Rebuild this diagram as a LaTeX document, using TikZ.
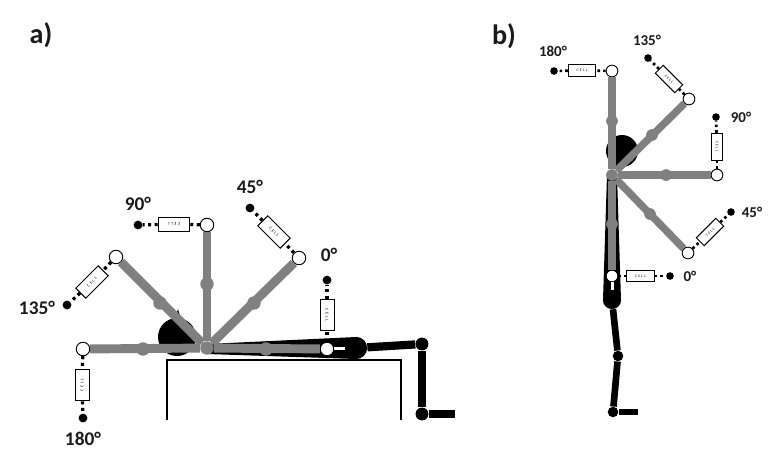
\documentclass[tikz,border=0pt]{standalone}
\usepackage{fontspec}
\setmainfont{Carlito}
\definecolor{armgray}{HTML}{808080}
\definecolor{labelgray}{HTML}{1A1A1A}
\tikzset{
    limb/.style={line width=7.6pt, draw=armgray},
    limbB/.style={line width=6.4pt, draw=armgray},
    leg/.style={line width=7pt, draw=black},
    legB/.style={line width=5.7pt, draw=black},
    joint/.style={circle, fill=armgray, inner sep=0pt, minimum size=11.5pt},
    jointB/.style={circle, fill=armgray, inner sep=0pt, minimum size=10pt},
    blackjoint/.style={circle, fill=black, inner sep=0pt, minimum size=11pt},
    marker/.style={circle, draw=black, fill=white, line width=0.8pt, inner sep=0pt, minimum size=11.5pt},
    markerB/.style={circle, draw=black, fill=white, line width=0.8pt, inner sep=0pt, minimum size=10pt},
    anchorpt/.style={circle, fill=black, inner sep=0pt, minimum size=7.5pt},
    anchorptB/.style={circle, fill=black, inner sep=0pt, minimum size=6.5pt},
    cell/.style={draw=black, fill=white, line width=0.8pt, inner sep=0pt, minimum width=27pt, minimum height=12pt, font=\fontsize{3.6pt}{3.6pt}\selectfont},
    cellB/.style={draw=black, fill=white, line width=0.8pt, inner sep=0pt, minimum width=23.5pt, minimum height=9.5pt, font=\fontsize{3.2pt}{3.2pt}\selectfont},
    wire/.style={line width=2.8pt, dash pattern=on 2.6pt off 3pt},
    wireB/.style={line width=2.3pt, dash pattern=on 2.2pt off 2.6pt},
    angle/.style={font=\fontsize{16.5pt}{16.5pt}\selectfont\bfseries, text=labelgray, inner sep=0pt},
    angleB/.style={font=\fontsize{12.8pt}{12.8pt}\selectfont\bfseries, text=labelgray, inner sep=0pt},
    panel/.style={font=\fontsize{24pt}{24pt}\selectfont\bfseries, text=labelgray, inner sep=0pt},
}
\begin{document}
\begin{tikzpicture}[x=0.03cm, y=-0.03cm]
    \useasboundingbox (0, 0) rectangle (773, 463);
    \node[panel] (PanelA) at (41, 35) {a)};
    \node[panel] (PanelB) at (504, 36) {b)};

    % supine
    \draw [line width=0.9pt] (167, 420) -- (167, 360) -- (401, 360) -- (401, 420);
    \fill (177, 337) circle (19);
    \fill (175, 319) -- (178, 309) -- (181, 319) -- cycle;
    \fill (207, 344) -- (356, 337) -- (356, 359) -- (207, 354) -- cycle;
    \node[blackjoint, minimum size=19pt] (HipA) at (356, 348) {};
    \node[blackjoint] (KneeA) at (422, 344) {};
    \node[blackjoint] (AnkleA) at (422, 414) {};
    \coordinate (ToeA) at (455, 414);
    \path [leg] (HipA) edge node {} (KneeA);
    \path [leg] (KneeA) edge node {} (AnkleA);
    \path [leg] (AnkleA) edge node {} (ToeA);

    \node[joint] (SA) at (207, 348) {};
    \node[marker] (W0A) at (327, 349) {};
    \node[marker] (W45A) at (299, 258) {};
    \node[marker] (W90A) at (207, 225) {};
    \node[marker] (W135A) at (116, 257) {};
    \node[marker] (W180A) at (83, 349) {};
    \path [limb] (SA) edge node {} (W0A);
    \path [limb] (SA) edge node {} (W45A);
    \path [limb] (SA) edge node {} (W90A);
    \path [limb] (SA) edge node {} (W135A);
    \path [limb] (SA) edge node {} (W180A);
    \node[joint] (E0A) at (266, 349) {};
    \node[joint] (E45A) at (254, 303) {};
    \node[joint] (E90A) at (207, 284) {};
    \node[joint] (E135A) at (160, 303) {};
    \node[joint] (E180A) at (143, 349) {};
    \fill [white] (334, 346.5) rectangle (345, 350);

    \node[cell, rotate=-90] (C0A) at (327, 315) {C\,\,E\,\,L\,\,L};
    \node[cell, rotate=-45] (C45A) at (274, 232) {C\,\,E\,\,L\,\,L};
    \node[cell, rotate=180] (C90A) at (174, 224) {C\,\,E\,\,L\,\,L};
    \node[cell, rotate=45] (C135A) at (92, 282) {C\,\,E\,\,L\,\,L};
    \node[cell, rotate=90] (C180A) at (82, 385) {C\,\,E\,\,L\,\,L};
    \node[anchorpt] (D0A) at (327, 280) {};
    \node[anchorpt] (D45A) at (250, 208) {};
    \node[anchorpt] (D90A) at (138, 225) {};
    \node[anchorpt] (D135A) at (67, 305) {};
    \node[anchorpt] (D180A) at (83, 418) {};
    \path [wire] (W0A) edge node {} (C0A);
    \path [wire] (C0A) edge node {} (D0A);
    \path [wire] (W45A) edge node {} (C45A);
    \path [wire] (C45A) edge node {} (D45A);
    \path [wire] (W90A) edge node {} (C90A);
    \path [wire] (C90A) edge node {} (D90A);
    \path [wire] (W135A) edge node {} (C135A);
    \path [wire] (C135A) edge node {} (D135A);
    \path [wire] (W180A) edge node {} (C180A);
    \path [wire] (C180A) edge node {} (D180A);
    \node[angle] (L0A) at (329, 255) {0°};
    \node[angle] (L45A) at (250, 187) {45°};
    \node[angle] (L90A) at (138, 204) {90°};
    \node[angle] (L135A) at (37, 308) {135°};
    \node[angle] (L180A) at (83, 439) {180°};

    % standing
    \fill (622, 151) circle (16);
    \fill (607, 175) -- (603, 300) -- (621, 300) -- (617, 175) -- cycle;
    \node[blackjoint, minimum size=15.5pt] (HipB) at (612, 300) {};
    \node[blackjoint, minimum size=9pt] (KneeB) at (618, 356) {};
    \node[blackjoint, minimum size=9pt] (AnkleB) at (613, 412) {};
    \coordinate (ToeB) at (638, 412);
    \path [legB] (HipB) edge node {} (KneeB);
    \path [legB] (KneeB) edge node {} (AnkleB);
    \path [legB] (AnkleB) edge node {} (ToeB);

    \node[jointB] (SB) at (612, 175) {};
    \node[markerB] (W0B) at (612, 276) {};
    \node[markerB] (W45B) at (688, 253) {};
    \node[markerB] (W90B) at (717, 175) {};
    \node[markerB] (W135B) at (689, 99) {};
    \node[markerB] (W180B) at (612, 71) {};
    \path [limbB] (SB) edge node {} (W0B);
    \path [limbB] (SB) edge node {} (W45B);
    \path [limbB] (SB) edge node {} (W90B);
    \path [limbB] (SB) edge node {} (W135B);
    \path [limbB] (SB) edge node {} (W180B);
    \node[jointB] (E0B) at (612, 224) {};
    \node[jointB] (E45B) at (650, 214) {};
    \node[jointB] (E90B) at (666, 175) {};
    \node[jointB] (E135B) at (652, 135) {};
    \node[jointB] (E180B) at (612, 121) {};
    \fill [white] (610.5, 282) rectangle (613.5, 290);

    \node[cellB] (C0B) at (640.5, 276) {C\,\,E\,\,L\,\,L};
    \node[cellB, rotate=45] (C45B) at (710, 232) {C\,\,E\,\,L\,\,L};
    \node[cellB, rotate=-90] (C90B) at (717, 147) {C\,\,E\,\,L\,\,L};
    \node[cellB, rotate=-45] (C135B) at (669, 79) {C\,\,E\,\,L\,\,L};
    \node[cellB] (C180B) at (582, 70.5) {C\,\,E\,\,L\,\,L};
    \node[anchorptB] (D0B) at (670, 276) {};
    \node[anchorptB] (D45B) at (731, 212) {};
    \node[anchorptB] (D90B) at (716, 117) {};
    \node[anchorptB] (D135B) at (648, 58) {};
    \node[anchorptB] (D180B) at (554, 71) {};
    \path [wireB] (W0B) edge node {} (C0B);
    \path [wireB] (C0B) edge node {} (D0B);
    \path [wireB] (W45B) edge node {} (C45B);
    \path [wireB] (C45B) edge node {} (D45B);
    \path [wireB] (W90B) edge node {} (C90B);
    \path [wireB] (C90B) edge node {} (D90B);
    \path [wireB] (W135B) edge node {} (C135B);
    \path [wireB] (C135B) edge node {} (D135B);
    \path [wireB] (W180B) edge node {} (C180B);
    \path [wireB] (C180B) edge node {} (D180B);
    \node[angleB] (L0B) at (690, 276) {0°};
    \node[angleB] (L45B) at (752, 212) {45°};
    \node[angleB] (L90B) at (741, 117) {90°};
    \node[angleB] (L135B) at (647, 40) {135°};
    \node[angleB] (L180B) at (553, 51) {180°};
\end{tikzpicture}
\end{document}
